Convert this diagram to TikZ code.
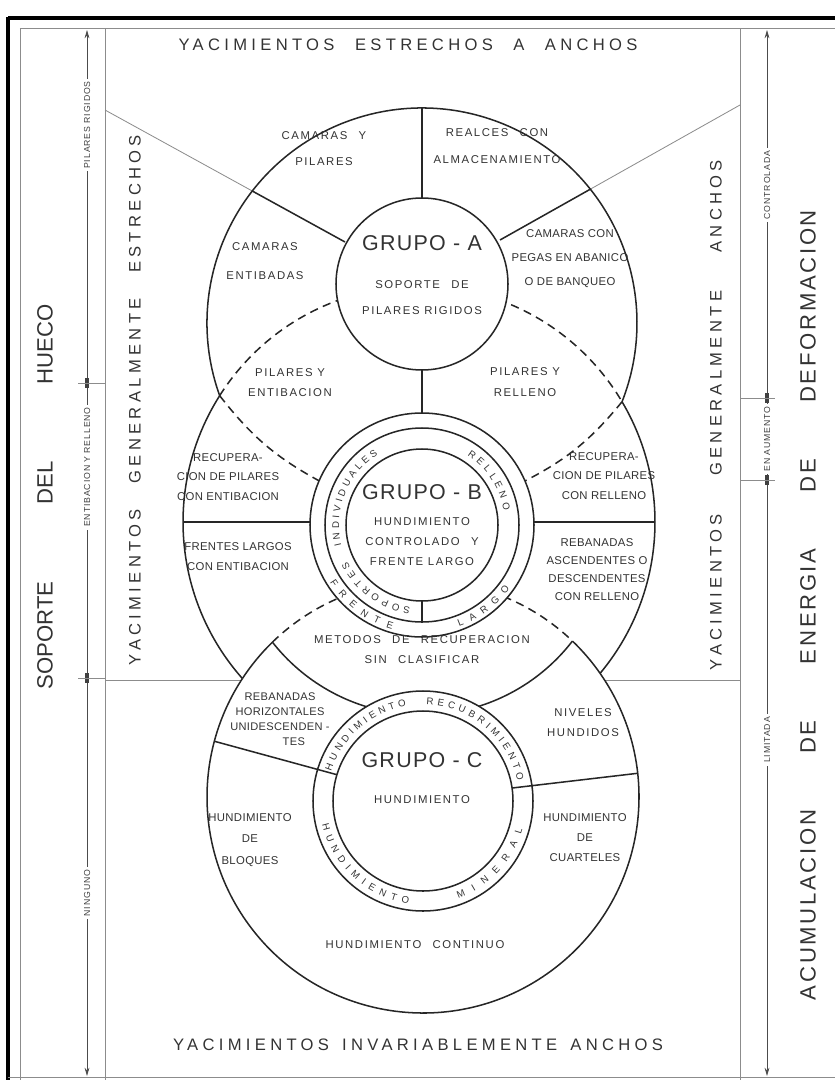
\documentclass[tikz,border=0pt]{standalone}
\usepackage{fontspec}
\setmainfont{Liberation Sans}
\newfontfamily\lsA[LetterSpace=14]{Liberation Sans}
\newfontfamily\lsB[LetterSpace=6]{Liberation Sans}
\newfontfamily\lsT[LetterSpace=3]{Liberation Sans}
\newfontfamily\lsW[LetterSpace=26]{Liberation Sans}
\newfontfamily\lsD[LetterSpace=12]{Liberation Sans}
\newfontfamily\lsR[LetterSpace=10]{Liberation Sans}
\usetikzlibrary{decorations.text,arrows.meta}
\begin{document}
\begin{tikzpicture}[x=1in,y=-1in,
  ln/.style={line width=1.1pt,draw=black!85},
  dsh/.style={line width=1.1pt,draw=black!85,dash pattern=on 6pt off 4pt},
  gl/.style={line width=0.6pt,draw=black!45},
  lbl/.style={font=\lsA\fontsize{8.2}{#1}\selectfont,inner sep=0pt,align=center,text=black!80},
  lbl/.default=14,
  big/.style={font=\lsB\fontsize{15.5}{18}\selectfont,inner sep=0pt,text=black!80},
  ttl/.style={font=\lsW\fontsize{12}{14}\selectfont,inner sep=0pt,text=black!80},
  side/.style={ttl,rotate=90},
  hug/.style={font=\fontsize{16}{18}\selectfont,inner sep=0pt,text=black!80,rotate=90},
  hugw/.style={font=\lsD\fontsize{16}{18}\selectfont,inner sep=0pt,text=black!80,rotate=90},
  arl/.style={font=\lsR\fontsize{6.3}{7}\selectfont,inner sep=2pt,fill=white,rotate=90,text=black!75},
  tick/.style={line width=2.6pt,draw=black!75},
  ringtxt/.style={decorate,decoration={text along path,text align={fit to path},text color=black!80,text={|\lsA\fontsize{7}{9}\selectfont|#1}}},
  arr/.style={line width=0.6pt,draw=black!70,arrows={Stealth[length=6pt,width=3.5pt]-Stealth[length=6pt,width=3.5pt]}}
]
\useasboundingbox (0,0) rectangle (8.35,10.80);
% ---------- geometry ----------
\def\Ax{4.22}\def\Ay{3.23}\def\Ar{2.15}   % outer A
\def\Bx{4.19}\def\By{5.22}\def\Br{2.36}   % outer B
\def\Cx{4.23}\def\Cy{7.97}\def\Cr{2.16}   % outer C
\def\Ix{4.22}\def\Iy{2.84}                % centre of A core
\def\Lx{4.22}\def\Ly{5.25}\def\Lr{1.90}   % lower edge of B-C lens
\pgfmathsetmacro\dAB{sqrt((\Bx-\Ax)*(\Bx-\Ax)+(\By-\Ay)*(\By-\Ay))}
\pgfmathsetmacro\tAB{atan2(\By-\Ay,\Bx-\Ax)}
\pgfmathsetmacro\pA{acos((\dAB*\dAB+\Ar*\Ar-\Br*\Br)/(2*\dAB*\Ar))}
\pgfmathsetmacro\pB{acos((\dAB*\dAB+\Br*\Br-\Ar*\Ar)/(2*\dAB*\Br))}
\pgfmathsetmacro\dBC{sqrt((\Cx-\Bx)*(\Cx-\Bx)+(\Cy-\By)*(\Cy-\By))}
\pgfmathsetmacro\tBC{atan2(\Cy-\By,\Cx-\Bx)}
\pgfmathsetmacro\pBc{acos((\dBC*\dBC+\Br*\Br-\Cr*\Cr)/(2*\dBC*\Br))}
\pgfmathsetmacro\pC{acos((\dBC*\dBC+\Cr*\Cr-\Br*\Br)/(2*\dBC*\Cr))}
\pgfmathsetmacro\dLC{sqrt((\Cx-\Lx)*(\Cx-\Lx)+(\Cy-\Ly)*(\Cy-\Ly))}
\pgfmathsetmacro\tLC{atan2(\Cy-\Ly,\Cx-\Lx)}
\pgfmathsetmacro\pL{acos((\dLC*\dLC+\Lr*\Lr-\Cr*\Cr)/(2*\dLC*\Lr))}
\pgfmathsetmacro\pCL{acos((\dLC*\dLC+\Cr*\Cr-\Lr*\Lr)/(2*\dLC*\Cr))}
% A arcs
\pgfmathsetmacro\aAs{\tAB+\pA}\pgfmathsetmacro\aAe{\tAB-\pA+360}
% junctions of A and B
\pgfmathsetmacro\Jx{\Ax+\Ar*cos(\tAB+\pA)}\pgfmathsetmacro\Jy{\Ay+\Ar*sin(\tAB+\pA)}
\pgfmathsetmacro\Kx{\Ax+\Ar*cos(\tAB-\pA)}\pgfmathsetmacro\Ky{\Ay+\Ar*sin(\tAB-\pA)}
% B arcs
\pgfmathsetmacro\aBds{\tAB+180-\pB}\pgfmathsetmacro\aBde{\tAB+180+\pB}
\pgfmathsetmacro\aBrE{\tBC-\pBc+360}
\pgfmathsetmacro\aBlS{\tBC+\pBc}
% C arcs
\pgfmathsetmacro\aCs{\tBC+180+\pC}\pgfmathsetmacro\aCe{\tBC+180-\pC+360}
\pgfmathsetmacro\aCk{\tBC+180-\pC}\pgfmathsetmacro\aCkr{\tBC+180+\pC}
\pgfmathsetmacro\aCp{\tLC+180-\pCL}\pgfmathsetmacro\aCpr{\tLC+180+\pCL}
% lens lower arc
\pgfmathsetmacro\aLs{\tLC-\pL}\pgfmathsetmacro\aLe{\tLC+\pL}
\coordinate (JL) at (\Jx,\Jy);
\coordinate (JR) at (\Kx,\Ky);
\coordinate (EL) at (3.25,4.84);
\coordinate (ER) at (5.19,4.84);
% ---------- frame ----------
\draw[line width=2.4pt] (0.08,0.18) -- (8.60,0.18);
\draw[line width=2.4pt] (0.08,0.17) -- (0.08,10.85);
\draw[gl] (0.20,0.28) -- (8.60,0.28);
\draw[gl] (0.20,0.28) -- (0.20,10.85);
\draw[gl] (0.08,10.77) -- (8.60,10.77);
\draw[gl] (1.05,0.28) -- (1.05,10.85);
\draw[gl] (7.40,0.28) -- (7.40,10.85);
% gray guide lines
\draw[gl] (1.05,1.10) -- (3.45,2.42);
\draw[gl] (7.40,1.05) -- (5.00,2.40);
\draw[gl] (1.05,6.80) -- (7.40,6.80);
% white interiors
\fill[white] (\Ax,\Ay) circle[radius=\Ar];
\fill[white] (\Bx,\By) circle[radius=\Br];
\fill[white] (\Cx,\Cy) circle[radius=\Cr];
% dividers inside A
\begin{scope}
\clip (\Ax,\Ay) circle[radius=\Ar];
\draw[ln] (1.05,1.10) -- (3.45,2.42);
\draw[ln] (7.40,1.05) -- (5.00,2.40);
\draw[ln] (4.22,0.5) -- (4.22,2.2);
\end{scope}
% lens A-B vertical
\draw[ln] (4.22,3.6) -- (4.22,4.3);
% B horizontal dividers
\begin{scope}
\clip (\Bx,\By) circle[radius=\Br];
\draw[ln] (1.5,5.22) -- (7.0,5.22);
\end{scope}
% ---------- outlines ----------
\draw[ln] (\Ax,\Ay) ++(\aAs:\Ar) arc[start angle=\aAs,end angle=\aAe,radius=\Ar];
\draw[dsh] (JL) to[bend right=12] (EL);
\draw[dsh] (JR) to[bend left=12] (ER);
\draw[dsh] (\Bx,\By) ++(\aBds:\Br) arc[start angle=\aBds,end angle=\aBde,radius=\Br];
\draw[ln] (\Bx,\By) ++(\aBde:\Br) arc[start angle=\aBde,end angle=\aBrE,radius=\Br];
\draw[ln] (\Bx,\By) ++(\aBlS:\Br) arc[start angle=\aBlS,end angle=\aBds,radius=\Br];
\draw[ln] (\Cx,\Cy) ++(\aCs:\Cr) arc[start angle=\aCs,end angle=\aCe,radius=\Cr];
\draw[ln] (\Cx,\Cy) ++(\aCk:\Cr) arc[start angle=\aCk,end angle=\aCp,radius=\Cr];
\draw[ln] (\Cx,\Cy) ++(\aCpr:\Cr) arc[start angle=\aCpr,end angle=\aCkr,radius=\Cr];
\draw[dsh] (\Cx,\Cy) ++(\aCp:\Cr) arc[start angle=\aCp,end angle=\aCpr,radius=\Cr];
\draw[ln] (\Lx,\Ly) ++(\aLs:\Lr) arc[start angle=\aLs,end angle=\aLe,radius=\Lr];
% ---------- group C rings ----------
\draw[ln,fill=white] (4.23,8.01) circle[radius=1.10];
\begin{scope}
\clip (\Cx,\Cy) circle[radius=\Cr];
\draw[ln] (1.9,7.346) -- (3.6,7.81);
\draw[ln] (6.7,7.695) -- (4.9,7.906);
\end{scope}
\draw[ln,fill=white] (4.23,8.01) circle[radius=0.90];
% ---------- group B rings ----------
\draw[ln,fill=white] (4.22,5.25) circle[radius=1.12];
\draw[ln,fill=white] (4.22,5.25) circle[radius=0.97];
\draw[ln] (4.22,5.9) -- (4.22,6.22);
\draw[ln,fill=white] (4.22,5.25) circle[radius=0.76];
% ---------- group A inner ----------
\draw[ln,fill=white] (\Ix,\Iy) circle[radius=0.86];
% ---------- ring texts ----------
\path[ringtxt=INDIVIDUALES] ([shift={(4.22,5.25)}]166:0.83) arc[start angle=166,end angle=238,radius=0.83];
\path[ringtxt=RELLENO] ([shift={(4.22,5.25)}]303:0.83) arc[start angle=303,end angle=350,radius=0.83];
\path[ringtxt=SOPORTES] ([shift={(4.22,5.25)}]98:0.83) arc[start angle=98,end angle=154,radius=0.83];
\path[ringtxt=FRENTE] ([shift={(4.22,5.25)}]148:1.085) arc[start angle=148,end angle=106,radius=1.085];
\path[ringtxt=LARGO] ([shift={(4.22,5.25)}]70:1.085) arc[start angle=70,end angle=36,radius=1.085];
\path[ringtxt=HUNDIMIENTO] ([shift={(4.23,8.01)}]198:0.965) arc[start angle=198,end angle=260,radius=0.965];
\path[ringtxt=RECUBRIMIENTO] ([shift={(4.23,8.01)}]272:0.965) arc[start angle=272,end angle=348,radius=0.965];
\path[ringtxt=HUNDIMIENTO] ([shift={(4.23,8.01)}]167:1.035) arc[start angle=167,end angle=98,radius=1.035];
\path[ringtxt=MINERAL] ([shift={(4.23,8.01)}]70:1.035) arc[start angle=70,end angle=16,radius=1.035];
% ---------- side columns ----------
\draw[arr] (0.87,0.30) -- (0.87,10.76);
\draw[tick] (0.87,3.78) -- (0.87,3.88);
\draw[gl] (0.78,3.83) -- (1.05,3.83);
\draw[tick] (0.87,6.73) -- (0.87,6.83);
\draw[gl] (0.78,6.78) -- (1.05,6.78);
\node[arl] (la1) at (0.87,1.25) {PILARES RIGIDOS};
\node[arl] (la2) at (0.87,4.67) {ENTIBACION Y RELLENO};
\node[arl] (la3) at (0.87,8.93) {NINGUNO};
\draw[arr] (7.67,0.30) -- (7.67,10.76);
\draw[tick] (7.67,3.93) -- (7.67,4.03);
\draw[gl] (7.40,3.98) -- (7.75,3.98);
\draw[tick] (7.67,4.75) -- (7.67,4.85);
\draw[gl] (7.40,4.80) -- (7.75,4.80);
\node[arl] (ra1) at (7.67,1.85) {CONTROLADA};
\node[arl] (ra2) at (7.67,4.39) {EN AUMENTO};
\node[arl] (ra3) at (7.67,7.40) {LIMITADA};
% ---------- titles ----------
\node[ttl] (t1) at (4.08,0.45) {\makebox[4.59in][s]{YACIMIENTOS ESTRECHOS A ANCHOS}};
\node[ttl] (t2) at (4.18,10.45) {\makebox[4.90in][s]{YACIMIENTOS INVARIABLEMENTE ANCHOS}};
\node[hug] (s1) at (0.45,4.97) {\makebox[3.85in][s]{SOPORTE DEL HUECO}};
\node[side] (s2) at (1.35,4.00) {\makebox[5.30in][s]{YACIMIENTOS GENERALMENTE ESTRECHOS}};
\node[side] (s3) at (7.16,4.15) {\makebox[5.10in][s]{YACIMIENTOS GENERALMENTE ANCHOS}};
\node[hugw] (s4) at (8.08,6.05) {\makebox[7.90in][s]{ACUMULACION DE ENERGIA DE DEFORMACION}};
% ---------- group A labels ----------
\node[lbl=18.7] (a1) at (3.24,1.49) {CAMARAS\quad Y\\PILARES};
\node[lbl=20] (a2) at (4.97,1.46) {REALCES\quad CON\\ALMACENAMIENTO};
\node[lbl=20.9] (a3) at (2.65,2.615) {CAMARAS\\ENTIBADAS};
\node[lbl=17.3,font=\lsT\fontsize{8.2}{17.3}\selectfont] (a4) at (5.70,2.59) {CAMARAS CON\\PEGAS EN ABANICO\\O DE BANQUEO};
\node[big] (aG) at (4.22,2.43) {GRUPO - A};
\node[lbl=18.7] (a5) at (4.22,2.98) {SOPORTE\quad DE\\PILARES RIGIDOS};
\node[lbl=15] (l1) at (2.90,3.825) {PILARES Y\\ENTIBACION};
\node[lbl=15] (l2) at (5.25,3.82) {PILARES Y\\RELLENO};
% ---------- group B labels ----------
\node[lbl=14,font=\lsT\fontsize{8.2}{14}\selectfont] (b1) at (2.28,4.77) {RECUPERA-\\CION DE PILARES\\CON ENTIBACION};
\node[lbl=14,font=\lsT\fontsize{8.2}{14}\selectfont] (b2) at (6.04,4.76) {RECUPERA-\\CION DE PILARES\\CON RELLENO};
\node[lbl=14,font=\lsT\fontsize{8.2}{14}\selectfont] (b3) at (2.38,5.565) {FRENTES LARGOS\\CON ENTIBACION};
\node[lbl=13.2,font=\lsT\fontsize{8.2}{13.2}\selectfont] (b4) at (5.97,5.695) {REBANADAS\\ASCENDENTES O\\DESCENDENTES\\CON RELLENO};
\node[big] (bG) at (4.22,4.92) {GRUPO - B};
\node[lbl=14.4] (b5) at (4.22,5.42) {HUNDIMIENTO\\CONTROLADO\quad Y\\FRENTE LARGO};
\node[lbl=14.4] (m1) at (4.22,6.50) {METODOS\quad DE\quad RECUPERACION\\SIN\quad CLASIFICAR};
% ---------- group C labels ----------
\node[lbl=10.8,font=\lsT\fontsize{8}{10.8}\selectfont] (c1) at (2.80,7.19) {REBANADAS\\HORIZONTALES\\UNIDESCENDEN -\\\hspace*{2.5em}TES};
\node[lbl=15] (c2) at (5.83,7.225) {NIVELES\\HUNDIDOS};
\node[big] (cG) at (4.22,7.60) {GRUPO - C};
\node[lbl] (c3) at (4.22,8.00) {HUNDIMIENTO};
\node[lbl=15.5,font=\lsT\fontsize{8.2}{15.5}\selectfont] (c4) at (2.50,8.40) {HUNDIMIENTO\\DE\\BLOQUES};
\node[lbl=14.5,font=\lsT\fontsize{8.2}{14.5}\selectfont] (c5) at (5.85,8.38) {HUNDIMIENTO\\DE\\CUARTELES};
\node[lbl] (c6) at (4.15,9.45) {HUNDIMIENTO\quad CONTINUO};
\end{tikzpicture}
\end{document}
